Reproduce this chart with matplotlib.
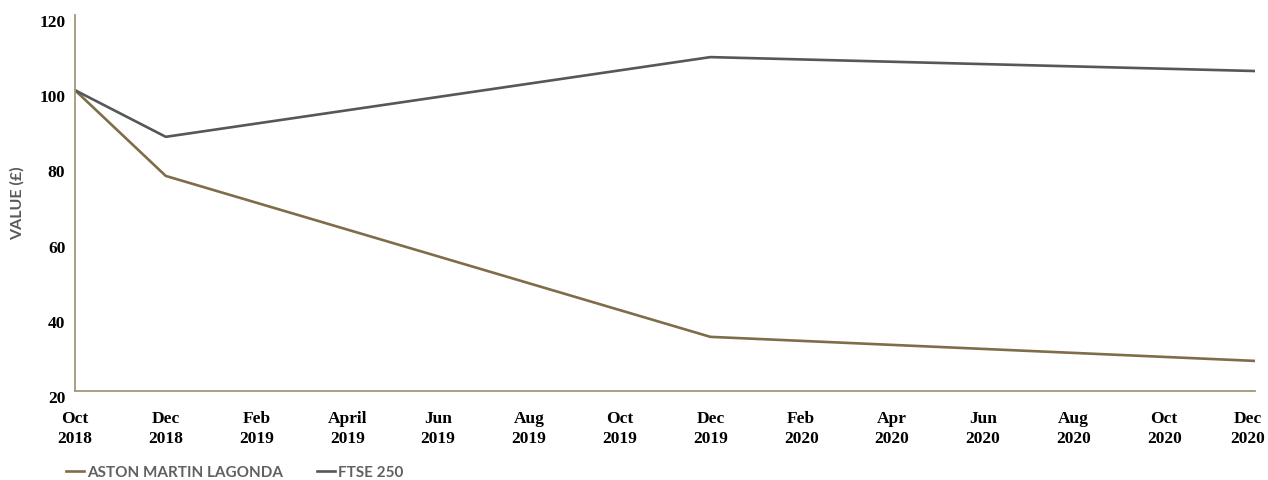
import matplotlib
matplotlib.use("Agg")
import matplotlib.pyplot as plt
import matplotlib.transforms as mtransforms

months = ["Oct\n2018", "Dec\n2018", "Feb\n2019", "April\n2019", "Jun\n2019", "Aug\n2019",
          "Oct\n2019", "Dec\n2019", "Feb\n2020", "Apr\n2020", "Jun\n2020", "Aug\n2020",
          "Oct\n2020", "Dec\n2020"]
point_idx = [0, 1, 7, 13]
aml_values = [100, 77.2, 34.4, 28.0]
ftse_values = [100, 87.6, 108.8, 105.1]
yticks = [20, 40, 60, 80, 100, 120]

aml_color = "#7e6d48"
ftse_color = "#56565b"
spine_color = "#a39779"

fig = plt.figure(figsize=(12.68, 4.81), dpi=100)
ax = fig.add_axes([75/1268, (481-392)/481, (1255-75)/1268, (392-16)/481])

ax.plot(point_idx, aml_values, color=aml_color, lw=1.9, label="ASTON MARTIN LAGONDA")
ax.plot(point_idx, ftse_values, color=ftse_color, lw=1.9, label="FTSE 250")

ax.set_xlim(0, len(months) - 1)
ax.set_ylim(20, 120)
ax.set_xticks(range(len(months)))
ax.set_xticklabels(months, fontfamily="Liberation Serif", fontweight="bold", fontsize=12.5,
                   linespacing=1.3)
ax.set_yticks(yticks)
ax.set_yticklabels([str(v) for v in yticks], fontfamily="Liberation Serif",
                   fontweight="bold", fontsize=12.5)
ax.tick_params(axis="both", length=0)
ax.tick_params(axis="x", pad=14)
ax.tick_params(axis="y", pad=7)
offset = mtransforms.ScaledTranslation(0, -5/100, fig.dpi_scale_trans)
for lbl in ax.get_yticklabels():
    lbl.set_transform(lbl.get_transform() + offset)
xlabels = ax.get_xticklabels()
last = xlabels[-1]
last.set_transform(last.get_transform() + mtransforms.ScaledTranslation(-7/100, 0, fig.dpi_scale_trans))

for s in ["top", "right"]:
    ax.spines[s].set_visible(False)
for s in ["left", "bottom"]:
    ax.spines[s].set_color(spine_color)
    ax.spines[s].set_linewidth(1.3)

fig.text(17/1268, 1 - 203/481, "VALUE (£)", rotation=90, ha="center", va="center",
         fontfamily="Lato", fontweight="bold", fontsize=11.5, color="#5a5a5a")

leg = fig.legend(loc="center left", bbox_to_anchor=(58/1268, 1 - 473/481), ncol=2, frameon=False,
                 handlelength=1.2, handletextpad=0.2, columnspacing=2.2, borderpad=0,
                 prop={"family": "Lato", "weight": "bold", "size": 11})
for t in leg.get_texts():
    t.set_color("#606060")

fig.savefig("out.png", dpi=100, facecolor="white")
